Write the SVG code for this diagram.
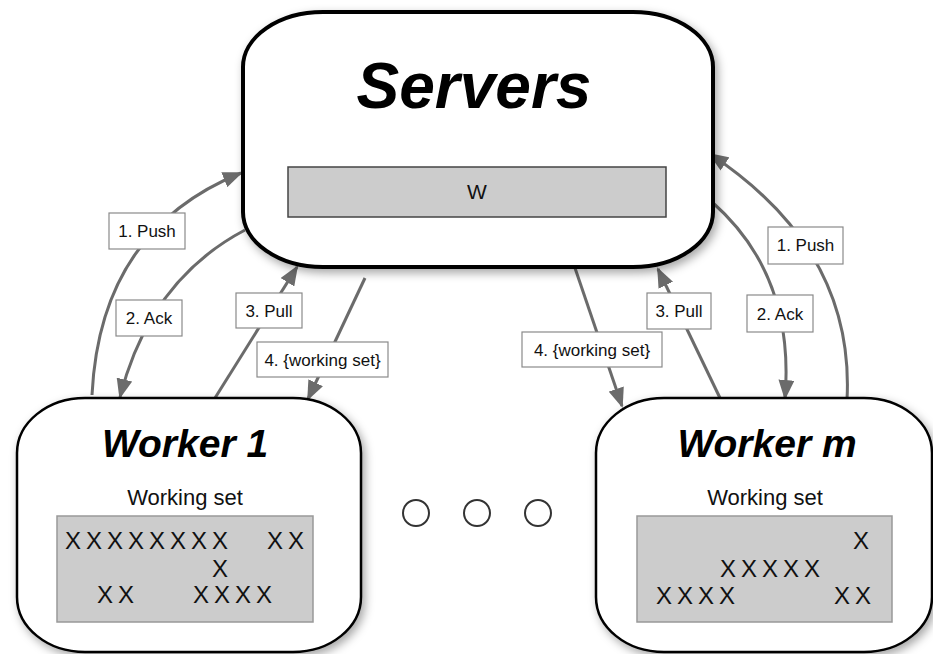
<svg xmlns="http://www.w3.org/2000/svg" width="933" height="654" viewBox="0 0 933 654">
  <defs>
    <filter id="shadow" x="-10%" y="-10%" width="120%" height="125%">
      <feDropShadow dx="3" dy="4" stdDeviation="5" flood-color="#000" flood-opacity="0.35"/>
    </filter>
    <marker id="arrow" viewBox="0 0 20 16" markerWidth="20" markerHeight="16" refX="18" refY="8" orient="auto" markerUnits="userSpaceOnUse">
      <path d="M0,0 L20,8 L0,16 z" fill="#6b6b6b"/>
    </marker>
  </defs>
  <style>
    .title { font-family: "Liberation Sans", Arial, sans-serif; font-weight: bold; font-style: italic; fill: #000; text-anchor: middle; }
    .plain { font-family: "Liberation Sans", Arial, sans-serif; fill: #111; text-anchor: middle; }
    .xs { font-family: "Liberation Sans", Arial, sans-serif; font-size: 24px; letter-spacing: 5px; fill: #111; }
    .lbl rect { fill: #fff; stroke: #8a8a8a; stroke-width: 1.2; }
    .lbl text { font-family: "Liberation Sans", Arial, sans-serif; font-size: 17px; fill: #111; text-anchor: middle; }
    .edge { fill: none; stroke: #6b6b6b; stroke-width: 3; marker-end: url(#arrow); }
    .set { fill: #cccccc; stroke: #999; stroke-width: 1.5; }
    .dot { fill: #fff; stroke: #333; stroke-width: 2; }
  </style>

  <rect width="933" height="654" fill="#fff"/>

  <!-- connectors -->
  <g id="connectors">
    <path class="edge" d="M92,395 Q100,230 241,173"/>
    <path class="edge" d="M245,230 Q150,280 120,397"/>
    <path class="edge" d="M215,398 L297,267"/>
    <path class="edge" d="M365,278 L308,399"/>
    <path class="edge" d="M847,400 Q855,250 710,154"/>
    <path class="edge" d="M712,202 Q795,275 785,398"/>
    <path class="edge" d="M720,398 L658,269"/>
    <path class="edge" d="M575,268 L622,406"/>
  </g>

  <!-- server node -->
  <g id="servers">
    <rect x="243" y="12" width="470" height="255" rx="80" ry="55" fill="#fff" stroke="#000" stroke-width="4" filter="url(#shadow)"/>
    <text class="title" x="474" y="108" font-size="64">Servers</text>
    <rect x="288" y="167" width="378" height="50" fill="#cccccc" stroke="#444" stroke-width="1.5"/>
    <text class="plain" x="477" y="199" font-size="21">W</text>
  </g>

  <!-- worker 1 -->
  <g id="worker1">
    <rect x="17" y="398" width="344" height="254" rx="68" ry="55" fill="#fff" stroke="#000" stroke-width="2.5" filter="url(#shadow)"/>
    <text class="title" x="185" y="457" font-size="39">Worker 1</text>
    <text class="plain" x="185" y="505" font-size="22">Working set</text>
    <rect class="set" x="57" y="516" width="256" height="106"/>
    <text class="xs" x="65" y="549">XXXXXXXX</text>
    <text class="xs" x="267" y="549">XX</text>
    <text class="xs" x="212" y="577">X</text>
    <text class="xs" x="97" y="603">XX</text>
    <text class="xs" x="193" y="603">XXXX</text>
  </g>

  <!-- ellipsis between workers -->
  <g id="ellipsis">
    <circle class="dot" cx="416" cy="513" r="13"/>
    <circle class="dot" cx="477" cy="513" r="13"/>
    <circle class="dot" cx="538" cy="513" r="13"/>
  </g>

  <!-- worker m -->
  <g id="workerm">
    <rect x="596" y="398" width="336" height="254" rx="68" ry="55" fill="#fff" stroke="#000" stroke-width="2.5" filter="url(#shadow)"/>
    <text class="title" x="767" y="457" font-size="39">Worker m</text>
    <text class="plain" x="765" y="505" font-size="22">Working set</text>
    <rect class="set" x="637" y="516" width="255" height="106"/>
    <text class="xs" x="853" y="549">X</text>
    <text class="xs" x="720" y="577">XXXXX</text>
    <text class="xs" x="656" y="604">XXXX</text>
    <text class="xs" x="834" y="604">XX</text>
  </g>

  <!-- connector labels -->
  <g id="labels">
    <g class="lbl"><rect x="109" y="213" width="76" height="36"/><text x="147" y="237">1. Push</text></g>
    <g class="lbl"><rect x="116" y="300" width="66" height="36"/><text x="149" y="324">2. Ack</text></g>
    <g class="lbl"><rect x="236" y="293" width="66" height="35"/><text x="269" y="317">3. Pull</text></g>
    <g class="lbl"><rect x="257" y="342" width="131" height="35"/><text x="322.5" y="366">4. {working set}</text></g>
    <g class="lbl"><rect x="522" y="332" width="140" height="35"/><text x="592" y="356">4. {working set}</text></g>
    <g class="lbl"><rect x="647" y="293" width="64" height="36"/><text x="679" y="317">3. Pull</text></g>
    <g class="lbl"><rect x="747" y="295" width="66" height="37"/><text x="780" y="320">2. Ack</text></g>
    <g class="lbl"><rect x="768" y="227" width="75" height="37"/><text x="805.5" y="251">1. Push</text></g>
  </g>
</svg>
